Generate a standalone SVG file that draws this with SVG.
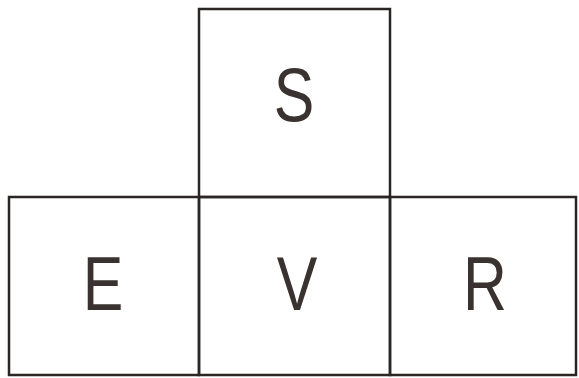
<svg xmlns="http://www.w3.org/2000/svg" width="579" height="378" viewBox="0 0 579 378">
<style>
.box{fill:none;stroke:#2b2624;stroke-width:2.5}
.lbl{font-family:"Liberation Sans",Arial,sans-serif;font-size:76px;fill:#3a3230;text-anchor:middle}
</style>
<rect width="579" height="378" fill="#ffffff"/>
<g id="S"><rect class="box" x="199" y="9" width="191" height="188"/><text class="lbl" transform="translate(294,121) scale(0.8,1)">S</text></g>
<g id="E"><rect class="box" x="9" y="197" width="190" height="178"/><text class="lbl" transform="translate(103,310) scale(0.8,1)">E</text></g>
<g id="V"><rect class="box" x="199" y="197" width="191" height="178"/><text class="lbl" transform="translate(297,310) scale(0.8,1)">V</text></g>
<g id="R"><rect class="box" x="390" y="197" width="186" height="178"/><text class="lbl" transform="translate(485,310) scale(0.8,1)">R</text></g>
<g id="connectors"></g>
</svg>
